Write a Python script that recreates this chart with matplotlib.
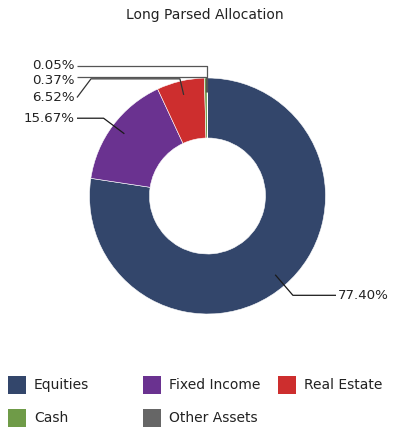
import numpy as np
import matplotlib
matplotlib.use("Agg")
import matplotlib.pyplot as plt
from matplotlib.patches import Rectangle

title = "Long Parsed Allocation"
categories = ["Equities", "Fixed Income", "Real Estate", "Cash", "Other Assets"]
values = [77.40, 15.67, 6.52, 0.37, 0.05]
labels = ["77.40%", "15.67%", "6.52%", "0.37%", "0.05%"]
colors = ["#33466b", "#6a3290", "#cd2e2e", "#6f9b48", "#666666"]

W, H = 403, 437
fig = plt.figure(figsize=(W / 100, H / 100), dpi=100)
ax = fig.add_axes([0, 0, 1, 1])
ax.set_xlim(0, W)
ax.set_ylim(0, H)
ax.axis("off")

def Y(y):
    return H - y

cx, cy, R = 207.5, 196.0, 118.0
ring = 60.0 / R
txt_color = "#222222"
line_color = "#1a1a1a"

ax.pie(values, colors=colors, startangle=90, counterclock=False,
       center=(cx, Y(cy)), radius=R, frame=True,
       wedgeprops=dict(width=ring * R, edgecolor="white", linewidth=0.4))
ax.set_xlim(0, W)
ax.set_ylim(0, H)
ax.axis("off")
ax.set_aspect("auto")

total = sum(values)
cum = np.cumsum([0] + values[:-1])
mids = [np.deg2rad(90 - 360 * (c + v / 2) / total) for c, v in zip(cum, values)]

def pt(ang, r):
    return cx + r * np.cos(ang), cy - r * np.sin(ang)

fs_lab = 9.6
def draw_path(pts, label, tx, ty, ha, lc=line_color):
    xs = [p[0] for p in pts]
    ys = [Y(p[1]) for p in pts]
    ax.plot(xs, ys, color=lc, lw=0.9, solid_capstyle="butt")
    ax.text(tx, Y(ty), label, ha=ha, va="center", fontsize=fs_lab, color=txt_color)

# Equities
a = pt(mids[0], 0.88 * R); e = pt(mids[0], 1.11 * R)
draw_path([a, e, (336, e[1])], labels[0], 338, e[1], "left")
# Fixed Income
a = pt(mids[1], 0.88 * R); e = pt(mids[1], 1.1 * R)
draw_path([a, e, (77, e[1])], labels[1], 75, e[1], "right")
# Real Estate
a = pt(mids[2], 0.88 * R); e = pt(mids[2], 1.02 * R)
draw_path([a, e, (91, e[1]), (77, 97.5)], labels[2], 75, 97.5, "right", "#333333")
# Cash
a = pt(mids[3], 0.88 * R)
draw_path([a, (a[0], 76.7), (77, 76.7)], labels[3], 75, 80, "right", "#555555")
# Other Assets
a = pt(mids[4], 0.88 * R)
draw_path([a, (a[0], 65.7), (77, 65.7)], labels[4], 75, 65.5, "right", "#555555")

# Title
fig.text(205 / W, 1 - 15 / H, title, ha="center", va="center", fontsize=10, color=txt_color)

# Legend
col_x = [8, 143, 278]
row_y = [385, 418]
for i, (cat, col) in enumerate(zip(categories, colors)):
    r, c = divmod(i, 3)
    x0, y0 = col_x[c], row_y[r]
    ax.add_patch(Rectangle((x0, Y(y0) - 9), 18, 18, facecolor=col, edgecolor="none"))
    ax.text(x0 + 26, Y(y0), cat, ha="left", va="center", fontsize=10, color=txt_color)

fig.savefig("out.png", dpi=100)
